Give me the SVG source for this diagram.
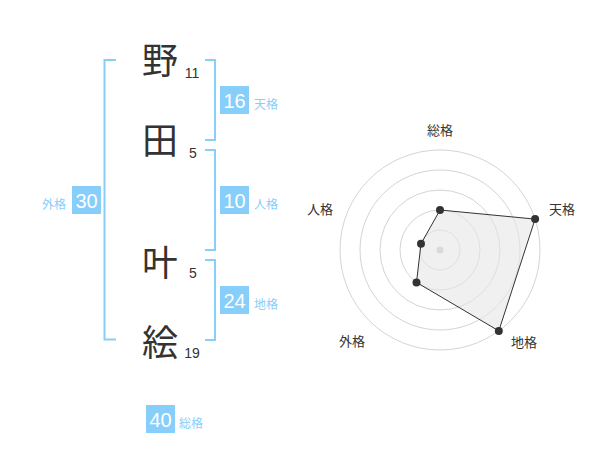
<svg xmlns="http://www.w3.org/2000/svg" width="600" height="470" viewBox="0 0 600 470">
<style>
.kanji{font-family:"Noto Sans CJK JP","Noto Sans CJK SC",sans-serif;font-size:36px;fill:#333;text-anchor:middle}
.stroke{font-family:"Liberation Sans",Arial,sans-serif;font-size:14px;fill:#333;text-anchor:middle}
.box{fill:#87cefa}
.num{font-family:"Liberation Sans",Arial,sans-serif;font-size:20px;fill:#fff;text-anchor:middle}
.lbl{font-family:"Noto Sans CJK JP","Noto Sans CJK SC",sans-serif;font-size:12px;fill:#87cefa}
.br{fill:none;stroke:#87cefa;stroke-width:2}
.grid{fill:none;stroke:#d4d4d4;stroke-width:1}
.rl{font-family:"Noto Sans CJK JP","Noto Sans CJK SC",sans-serif;font-size:13px;fill:#333;text-anchor:middle}
.dot{fill:#333}
</style>
<rect width="600" height="470" fill="#fff"/>
<g id="connectors">
<path class="br" d="M116,60 H104.5 V339.5 H116"/>
<path class="br" d="M205,60 H215 V140 H205"/>
<path class="br" d="M205,150 H215 V250 H205"/>
<path class="br" d="M205,260 H215 V340 H205"/>
</g>
<g id="char1"><text class="kanji" x="160" y="74">野</text><text class="stroke" x="192" y="78">11</text></g>
<g id="char2"><text class="kanji" x="160" y="154">田</text><text class="stroke" x="193" y="158">5</text></g>
<g id="char3"><text class="kanji" x="160" y="276">叶</text><text class="stroke" x="193" y="278">5</text></g>
<g id="char4"><text class="kanji" x="160" y="356">絵</text><text class="stroke" x="192" y="358">19</text></g>
<g id="tenkaku"><rect class="box" x="220" y="86" width="29" height="28"/><text class="num" x="234.5" y="107.5">16</text><text class="lbl" x="254" y="108.5">天格</text></g>
<g id="jinkaku"><rect class="box" x="220" y="186" width="29" height="28"/><text class="num" x="234.5" y="207.5">10</text><text class="lbl" x="254" y="208.5">人格</text></g>
<g id="chikaku"><rect class="box" x="220" y="286" width="29" height="28"/><text class="num" x="234.5" y="307.5">24</text><text class="lbl" x="254" y="308.5">地格</text></g>
<g id="gaikaku"><rect class="box" x="72" y="186" width="29" height="28"/><text class="num" x="86.5" y="207.5">30</text><text class="lbl" x="66" y="208.5" text-anchor="end">外格</text></g>
<g id="soukaku"><rect class="box" x="146" y="405" width="29" height="28"/><text class="num" x="160.5" y="426.5">40</text><text class="lbl" x="179" y="427.5">総格</text></g>
<g id="radar">
<circle class="grid" cx="440" cy="250" r="20"/>
<circle class="grid" cx="440" cy="250" r="40"/>
<circle class="grid" cx="440" cy="250" r="60"/>
<circle class="grid" cx="440" cy="250" r="80"/>
<circle class="grid" cx="440" cy="250" r="100"/>
<circle cx="440" cy="250" r="3.5" fill="#c8c8c8"/>
<polygon points="440,210 535.1,219.1 498.8,330.9 416.5,282.4 421,243.8" fill="#e6e6e6" fill-opacity="0.6" stroke="#333" stroke-width="1"/>
<circle class="dot" cx="440" cy="210" r="4"/>
<circle class="dot" cx="535.1" cy="219.1" r="4"/>
<circle class="dot" cx="498.8" cy="330.9" r="4"/>
<circle class="dot" cx="416.5" cy="282.4" r="4"/>
<circle class="dot" cx="421" cy="243.8" r="4"/>
<text class="rl" x="440" y="135">総格</text>
<text class="rl" x="562" y="213.5">天格</text>
<text class="rl" x="524" y="346.5">地格</text>
<text class="rl" x="352" y="345.5">外格</text>
<text class="rl" x="320" y="213.5">人格</text>
</g>
</svg>
